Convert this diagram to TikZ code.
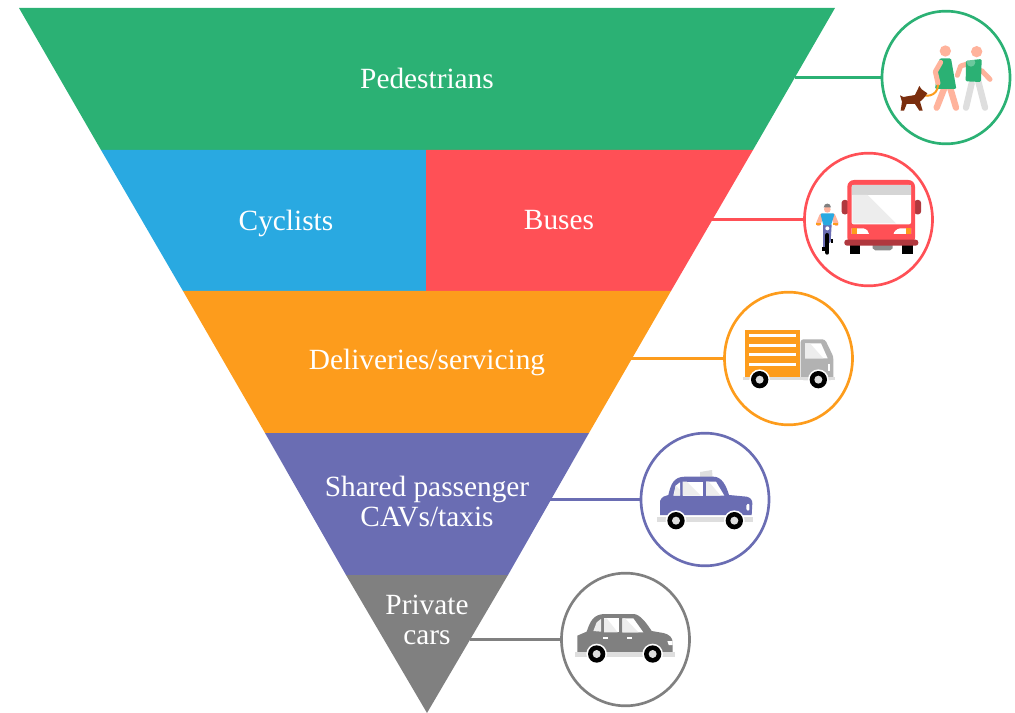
\documentclass[tikz,border=0pt]{standalone}
\usepackage{fontspec}
\setmainfont{Liberation Serif}
\usepackage{tikz}
\usetikzlibrary{positioning}
\usetikzlibrary{shapes.geometric}
\definecolor{pedgreen}{HTML}{2BB174}
\definecolor{cycblue}{HTML}{29A9E1}
\definecolor{busred}{HTML}{FF5056}
\definecolor{busdark}{HTML}{B0383E}
\definecolor{delorange}{HTML}{FD9C1C}
\definecolor{taxipurple}{HTML}{6A6DB3}
\definecolor{cargray}{HTML}{808080}
\definecolor{skin}{HTML}{FFB39C}
\definecolor{dogbrown}{HTML}{7A2E0E}
\definecolor{lightgray}{HTML}{DEDEDE}
\definecolor{glass}{HTML}{EDEDED}
\tikzset{label/.style={text=white,font=\fontsize{22}{22.5}\selectfont,align=center}}
\tikzset{ring/.style={draw=#1,line width=2pt,ellipse,fill=white,minimum width=96pt,minimum height=99.5pt,inner sep=0pt,outer sep=0pt}}
\tikzset{link/.style={draw=#1,line width=2pt}}
\tikzset{limb/.style={line width=#1*0.25pt,line cap=round,line join=round}}
\tikzset{icon/.style={x=0.25pt,y=-0.25pt}}
\newcommand{\iconwheel}[2]{
\fill[white] (#1,#2) circle (31);
\fill[black] (#1,#2) circle (26);
\fill[lightgray] (#1,#2) circle (12);
}
\begin{document}
\begin{tikzpicture}[x=0.75pt,y=-0.75pt]
\useasboundingbox (0,0) rectangle (1015,713);
% funnel bands
\fill[pedgreen] (19,8) -- (835,8) -- (753,150) -- (101,150) -- cycle;
\fill[cycblue] (101,150) -- (426,150) -- (426,291) -- (183,291) -- cycle;
\fill[busred] (426,150) -- (753,150) -- (671,291) -- (426,291) -- cycle;
\fill[delorange] (183,291) -- (671,291) -- (589,433) -- (265,433) -- cycle;
\fill[taxipurple] (265,433) -- (589,433) -- (508,575) -- (346,575) -- cycle;
\fill[cargray] (346,575) -- (508,575) -- (427,713) -- cycle;
% labels
\node[label] (pedestrians) at (427,78) {Pedestrians};
\node[label] (cyclists) at (286,223) {Cyclists};
\node[label] (buses) at (559,220) {Buses};
\node[label] (deliveries) at (427,362) {Deliveries/servicing};
\node[label] (taxis) at (427,502) {Shared passenger\\CAVs/taxis};
\node[label] (cars) at (427,620) {Private\\cars};
% rings and their links
\node[ring=pedgreen] (pedring) at (946,77.5) {};
\node[ring=busred] (busring) at (868.5,219.5) {};
\node[ring=delorange] (delring) at (788.5,358.5) {};
\node[ring=taxipurple] (taxiring) at (705,499.5) {};
\node[ring=cargray] (carring) at (625.5,639.5) {};
\coordinate (pededge) at (795,77.5);
\coordinate (busedge) at (712,219.5);
\coordinate (deledge) at (631,358.5);
\coordinate (taxiedge) at (549,499.5);
\coordinate (caredge) at (470,639.5);
\draw[link=pedgreen] (pededge) -- (pedring);
\draw[link=busred] (busedge) -- (busring);
\draw[link=delorange] (deledge) -- (delring);
\draw[link=taxipurple] (taxiedge) -- (taxiring);
\draw[link=cargray] (caredge) -- (carring);
% walkers and dog
\begin{scope}[shift={(870,0)},icon]
\draw[limb=19,lightgray] (305,250) -- (288,323);
\draw[limb=19,lightgray] (325,245) -- (345,323);
\draw[limb=15,skin] (335,212) -- (360,238);
\draw[limb=19,skin] (224,262) -- (200,323);
\draw[limb=19,skin] (240,262) -- (258,323);
\fill[skin] (226,153) circle (17);
\fill[skin] (320,155) circle (17);
\fill[pedgreen,rounded corners=1pt] (209,175) -- (243,175) -- (259,267) -- (195,267) -- cycle;
\draw[limb=15,skin] (212,187) -- (196,215) -- (204,250);
\draw[limb=15,skin] (298,190) -- (272,198) -- (262,226);
\fill[pedgreen,rounded corners=1pt] (288,182) -- (335,177) -- (333,246) -- (287,244) -- cycle;
\fill[white,opacity=.3] (303,187) circle (13);
\draw[limb=6,delorange] (143,279) .. controls (165,294) and (202,290) .. (204,256);
\fill[dogbrown] (90,286) -- (100,291) -- (135,285) -- (148,258) -- (155,268) -- (172,280) -- (160,296) -- (150,305) -- (158,332) -- (148,332) -- (135,312) -- (110,312) -- (102,332) -- (92,332) -- (96,305) -- cycle;
\end{scope}
% cyclist and bus
\begin{scope}[shift={(795,145)},icon]
\fill[gray!70!black!70!white] (233,300) -- (293,300) -- (293,310) -- (285,316) -- (241,316) -- (233,310) -- cycle;
\fill[black] (165,298) rectangle (196,328);
\fill[black] (322,298) rectangle (353,328);
\fill[busdark,rounded corners=2pt] (140,165) rectangle (160,208);
\fill[busdark,rounded corners=2pt] (358,165) rectangle (378,208);
\fill[busred,rounded corners=5pt] (157,105) rectangle (360,298);
\fill[white,rounded corners=1.5pt] (170,120) rectangle (348,238);
\fill[lightgray!90!gray] (170,120) rectangle (348,150);
\fill[glass] (172,150) -- (218,150) -- (303,235) -- (172,235) -- cycle;
\fill[white] (170,250) -- (205,250) .. controls (215,252) and (222,260) .. (222,267) -- (170,267) -- cycle;
\fill[white] (348,250) -- (315,250) .. controls (305,252) and (296,260) .. (296,267) -- (348,267) -- cycle;
\fill[delorange] (170,250) rectangle (186,267);
\fill[delorange] (332,250) rectangle (348,267);
\fill[busdark,rounded corners=2pt] (148,284) rectangle (370,302);
\draw[limb=14,skin] (80,212) -- (70,236);
\draw[limb=14,skin] (114,212) -- (124,236);
\fill[taxipurple] (84,238) -- (110,238) -- (107,290) -- (90,306) -- (84,306) -- cycle;
\fill[cycblue,rounded corners=1pt] (76,205) -- (119,205) -- (108,241) -- (85,241) -- cycle;
\fill[skin] (97,193) circle (10);
\fill[gray] (86,187) .. controls (87,172) and (107,172) .. (108,187) -- cycle;
\fill[delorange] (64,235) rectangle (78,241);
\fill[delorange] (115,235) rectangle (129,241);
\draw[limb=12,black] (97,270) -- (97,323);
\fill[white] (97,250) circle (6);
\fill[black] (81,305) rectangle (90,318);
\fill[black] (107,283) rectangle (114,293);
\end{scope}
% truck
\begin{scope}[shift={(715,285)},icon]
\fill[delorange] (90,135) rectangle (255,285);
\foreach \y in {147,177,204,234} {
\fill[white] (102,\y) rectangle (243,\y+9);
}
\fill[gray!60,rounded corners=2pt] (257,163) -- (330,163) -- (355,215) -- (355,285) -- (257,285) -- cycle;
\fill[white] (270,175) -- (318,175) -- (338,220) -- (270,220) -- cycle;
\fill[glass] (270,175) -- (285,175) -- (325,220) -- (270,220) -- cycle;
\fill[white] (338,237) rectangle (345,258);
\fill[lightgray] (85,276) rectangle (360,286);
\iconwheel{134}{284}
\iconwheel{310}{284}
\end{scope}
% taxi
\begin{scope}[shift={(630,425)},icon]
\fill[lightgray] (210,141) -- (246,135) -- (248,160) -- (210,160) -- cycle;
\fill[taxipurple] (90,270) -- (90,228) .. controls (95,215) and (105,212) .. (115,210) .. controls (122,180) and (130,155) .. (165,155) -- (250,155) .. controls (275,155) and (288,180) .. (297,210) -- (350,215) .. controls (362,218) and (367,225) .. (367,235) -- (365,270) -- cycle;
\fill[white] (130,212) -- (137,182) -- (150,172) -- (150,212) -- cycle;
\fill[glass] (132,212) -- (137,182) -- (150,195) -- (150,212) -- cycle;
\fill[white] (158,170) rectangle (220,212);
\fill[glass] (158,170) -- (170,170) -- (212,212) -- (158,212) -- cycle;
\fill[white] (228,170) -- (258,170) -- (283,212) -- (228,212) -- cycle;
\fill[glass] (228,170) -- (236,170) -- (272,212) -- (228,212) -- cycle;
\fill[white,rounded corners=1pt] (349,238) -- (358,235) -- (358,258) -- (349,256) -- cycle;
\fill[lightgray] (82,275) rectangle (368,290);
\iconwheel{138}{287}
\iconwheel{313}{287}
\end{scope}
% private car
\begin{scope}[shift={(550,565)},icon]
\fill[cargray] (82,262) -- (82,212) -- (110,200) .. controls (120,170) and (130,147) .. (165,147) -- (250,147) .. controls (270,147) and (290,175) .. (305,198) -- (340,204) .. controls (358,208) and (368,218) .. (368,232) -- (368,262) -- cycle;
\fill[glass] (130,198) -- (140,172) -- (153,162) -- (153,200) -- cycle;
\fill[white] (162,160) rectangle (207,202);
\fill[glass] (162,160) -- (170,160) -- (203,202) -- (162,202) -- cycle;
\fill[white] (217,160) -- (250,160) -- (280,202) -- (217,202) -- cycle;
\fill[glass] (217,160) -- (225,160) -- (265,202) -- (217,202) -- cycle;
\fill[white] (160,216) rectangle (175,221);
\fill[white] (230,216) rectangle (245,221);
\fill[white] (352,228) -- (368,228) -- (368,240) -- (356,240) -- cycle;
\fill[lightgray] (75,262) rectangle (375,275);
\iconwheel{140}{267}
\iconwheel{308}{267}
\end{scope}
\end{tikzpicture}
\end{document}
